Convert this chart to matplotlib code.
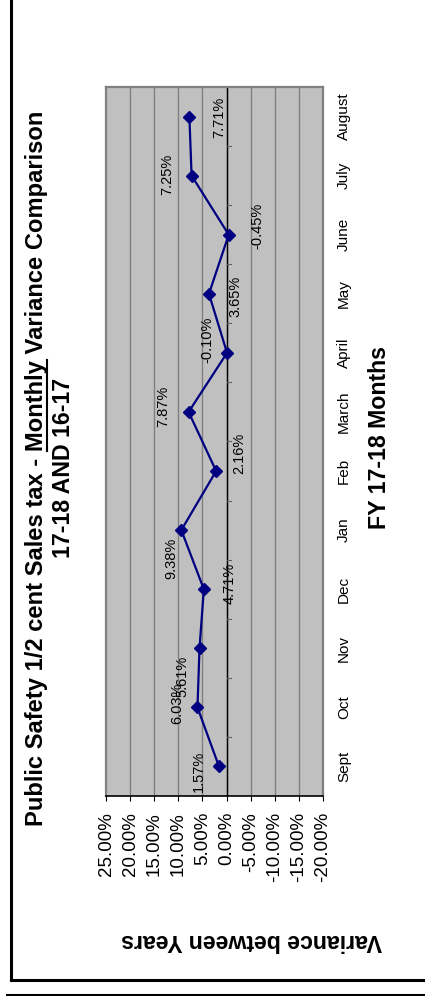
import matplotlib
matplotlib.use("Agg")
import matplotlib.pyplot as plt
from matplotlib.lines import Line2D

plt.rcParams['font.family'] = ['Liberation Sans', 'DejaVu Sans']

months = ["Sept", "Oct", "Nov", "Dec", "Jan", "Feb", "March", "April",
          "May", "June", "July", "August"]
variance = [1.57, 6.03, 5.61, 4.71, 9.38, 2.16, 7.87, -0.10, 3.65, -0.45, 7.25, 7.71]
value_ticks = [25, 20, 15, 10, 5, 0, -5, -10, -15, -20]

# hand-placed label offsets (pixels) for each data label
label_offsets = [(-20, -5), (-20, 4), (-17, -28), (26, 6), (-10, -28), (23, 18),
                 (-25, 6), (-20, 13), (27, -3), (29, 9), (-24, 1), (30, -1)]

W, H = 425, 996
fig = plt.figure(figsize=(W / 100, H / 100), dpi=100)

def fx(px):
    return px / W

def fy(py):
    return 1 - py / H

ax = fig.add_axes([fx(106), fy(796), fx(323) - fx(106), fy(87) - fy(796)])
ax.set_facecolor('#C0C0C0')
ax.set_xlim(value_ticks[0], value_ticks[-1])
ax.set_ylim(-0.5, len(months) - 0.5)

for v in value_ticks[1:-1]:
    ax.axvline(v, color='#808080', lw=1.0, zorder=1)
ax.axvline(0, color='black', lw=1.0, zorder=2)
# small category separators on the zero line
for k in range(1, len(months)):
    ax.plot([0, -0.9], [k - 0.5, k - 0.5], color='#606060', lw=0.8, zorder=2)

ypos = list(range(len(months)))
ax.plot(variance, ypos, color='#000080', lw=1.6, marker='D', markersize=6.5,
        markerfacecolor='#000080', markeredgecolor='#000080', zorder=3)

for y, v, (dx, dy) in zip(ypos, variance, label_offsets):
    ax.annotate(f"{v:.2f}%", (v, y), xytext=(dx, dy), textcoords='offset pixels',
                rotation=90, ha='center', va='center', fontsize=10.5, color='black',
                zorder=4)

for side in ['top', 'left', 'right']:
    ax.spines[side].set_color('#808080')
    ax.spines[side].set_linewidth(1.6)
ax.spines['bottom'].set_color('black')
ax.spines['bottom'].set_linewidth(1.2)

ax.set_xticks(value_ticks)
ax.set_xticklabels([f"{v:.2f}%" for v in value_ticks], rotation=90, fontsize=13.5)
ax.tick_params(axis='x', direction='out', length=3.6, width=0.8, pad=8)

ax.yaxis.tick_right()
ax.set_yticks(ypos)
ax.set_yticklabels(months, rotation=90, va='center', ha='left', fontsize=11)
ax.tick_params(axis='y', length=0, pad=10)

# titles and axis captions
line1_pre = "Public Safety 1/2 cent Sales tax - "
line1_u = "Monthly"
line1_post = " Variance Comparison"
t1 = fig.text(fx(37), fy(468), line1_pre + line1_u + line1_post, rotation=90,
              ha='center', va='center', fontsize=17.1, fontweight='bold')
fig.text(fx(64), fy(468), "17-18 AND 16-17", rotation=90,
         ha='center', va='center', fontsize=16.7, fontweight='bold')
fig.text(fx(379), fy(437), "FY 17-18 Months", rotation=90,
         ha='center', va='center', fontsize=16.7, fontweight='bold')
fig.text(fx(252), fy(940), "Variance between Years", rotation=180,
         ha='center', va='center', fontsize=16.7, fontweight='bold')

# underline the word "Monthly"
fig.canvas.draw()
renderer = fig.canvas.get_renderer()
prop = t1.get_fontproperties()
bb = t1.get_window_extent(renderer)
w_full, _, _ = renderer.get_text_width_height_descent(line1_pre + line1_u + line1_post, prop, ismath=False)
w_a, _, _ = renderer.get_text_width_height_descent(line1_pre + line1_u, prop, ismath=False)
w_m, _, _ = renderer.get_text_width_height_descent(line1_u, prop, ismath=False)
start = (bb.y0 + bb.y1) / 2 - w_full / 2
u0 = start + w_a - w_m
u1 = start + w_a
ux = 47
fig.add_artist(Line2D([fx(ux), fx(ux)], [u0 / H, u1 / H], color='black', lw=1.5,
                      transform=fig.transFigure))

# frame lines
fig.add_artist(Line2D([fx(11.3), fx(11.3)], [fy(0), fy(979.5)], color='black', lw=2.2,
                      transform=fig.transFigure, solid_capstyle='projecting'))
fig.add_artist(Line2D([fx(11.3), fx(425)], [fy(979.5), fy(979.5)], color='black', lw=2.2,
                      transform=fig.transFigure, solid_capstyle='projecting'))
fig.add_artist(Line2D([fx(7), fx(425)], [fy(994.5), fy(994.5)], color='black', lw=2.2,
                      transform=fig.transFigure))

fig.savefig("out.png", dpi=100)
